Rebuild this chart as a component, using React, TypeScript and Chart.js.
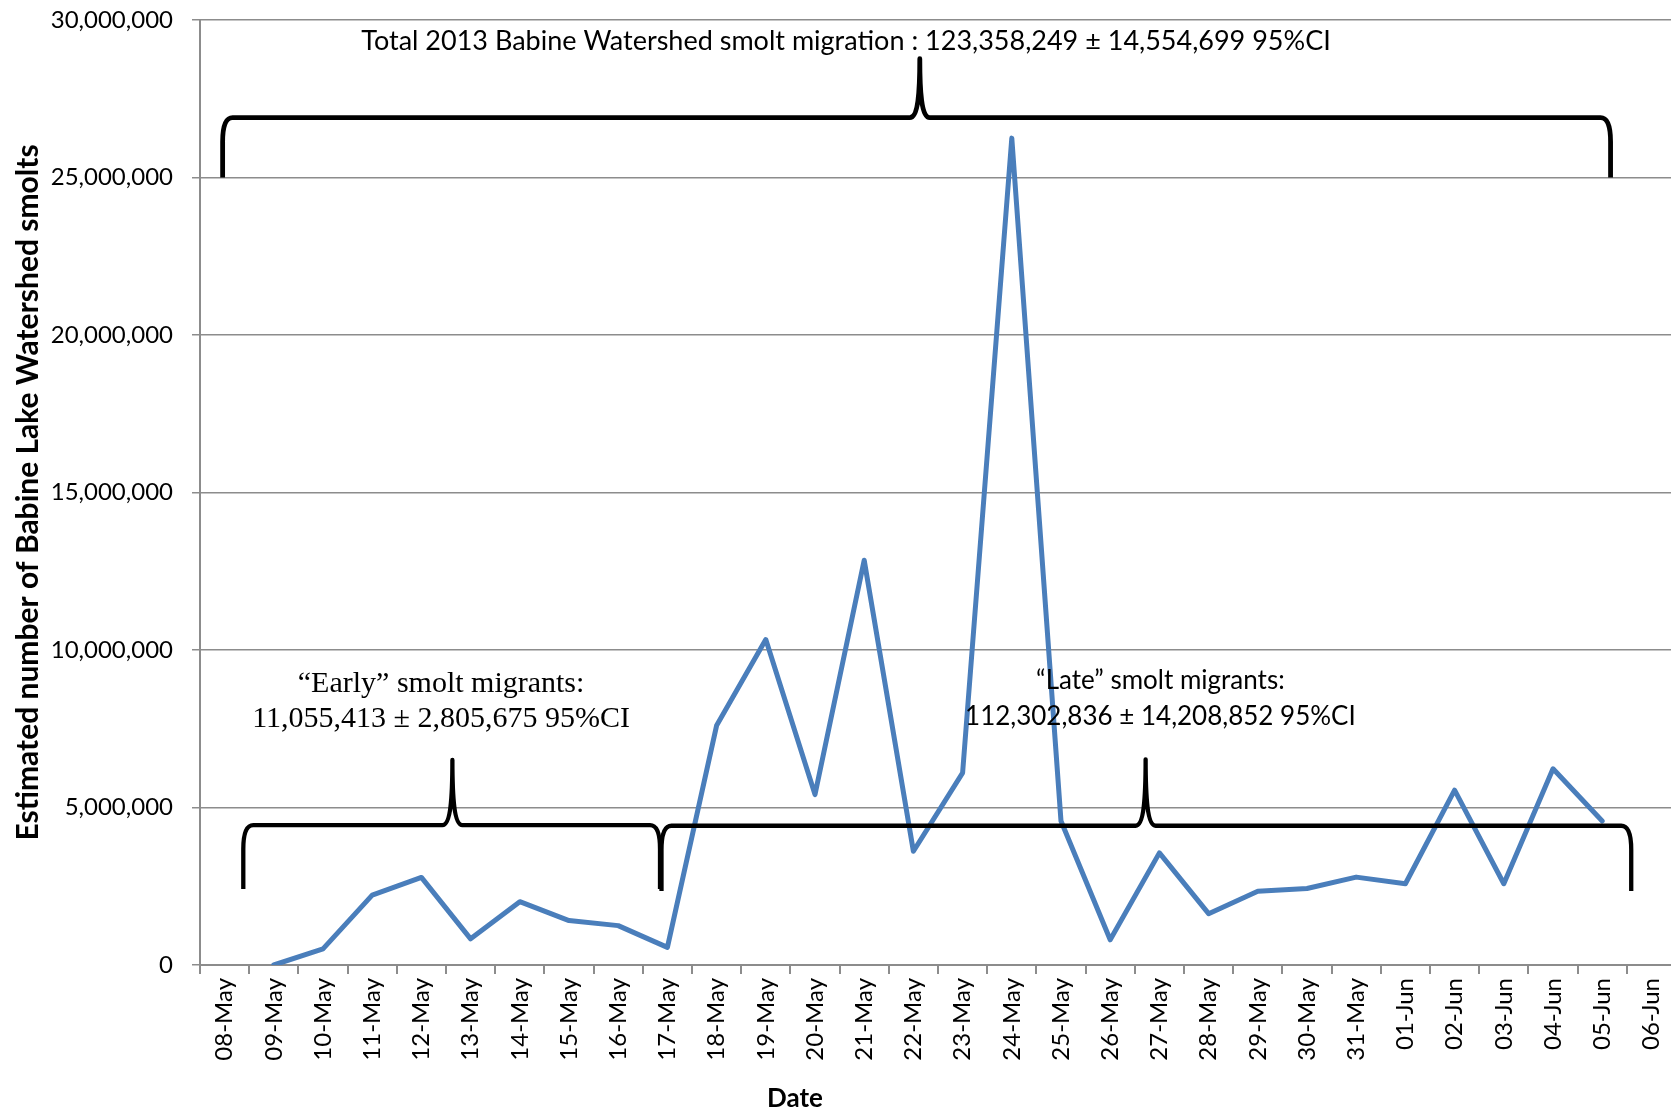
import React, { useEffect, useRef } from 'react';
import { Chart, registerables } from 'chart.js';

Chart.register(...registerables);

// Daily estimates of Babine Lake Watershed smolts, 2013
const dates = [
  '08-May', '09-May', '10-May', '11-May', '12-May', '13-May', '14-May', '15-May',
  '16-May', '17-May', '18-May', '19-May', '20-May', '21-May', '22-May', '23-May',
  '24-May', '25-May', '26-May', '27-May', '28-May', '29-May', '30-May', '31-May',
  '01-Jun', '02-Jun', '03-Jun', '04-Jun', '05-Jun', '06-Jun',
];

const smolts: (number | null)[] = [
  null, 0, 510000, 2220000, 2780000, 830000, 2010000, 1410000,
  1250000, 560000, 7600000, 10330000, 5410000, 12850000, 3610000, 6100000,
  26250000, 4570000, 800000, 3560000, 1630000, 2340000, 2430000, 2790000,
  2580000, 5550000, 2580000, 6230000, 4570000, null,
];

const yMax = 30000000;
const yStep = 5000000;

const totalText = 'Total 2013 Babine Watershed smolt migration : 123,358,249 ± 14,554,699 95%CI';
const earlyText = ['“Early” smolt migrants:', '11,055,413 ± 2,805,675 95%CI'];
const lateText = ['“Late” smolt migrants:', '112,302,836 ± 14,208,852 95%CI'];

// Braces in chart units: x as category index, y as smolt count
const totalBrace = { from: -0.04, cusp: 14.13, to: 28.17, end: 25000000, level: 26900000, tip: 28770000 };
const earlyBrace = { from: 0.38, cusp: 4.63, to: 8.85, end: 2410000, level: 4440000, tip: 6510000 };
const lateBrace = { from: 8.88, cusp: 18.72, to: 28.59, end: 2350000, level: 4420000, tip: 6530000 };

// Label anchors in chart units (x centre, baselines)
const totalAnchor = { x: 12.63, y: [29050000] };
const earlyAnchor = { x: 4.4, y: [8680000, 7550000] };
const lateAnchor = { x: 19.02, y: [8760000, 7620000] };

const SANS = 'Lato, "Open Sans", sans-serif';
const SERIF = '"Liberation Serif", "DejaVu Serif", serif';
const GRID = '#8c8c8c';

type Brace = { from: number; cusp: number; to: number; end: number; level: number; tip: number };

const annotations = {
  id: 'smoltAnnotations',
  afterDatasetsDraw(chart: any) {
    const { ctx, chartArea } = chart;
    const xs = chart.scales.x;
    const ys = chart.scales.y;
    const x0 = xs.getPixelForValue(0);
    const dx = xs.getPixelForValue(1) - x0;
    const px = (i: number) => x0 + i * dx;
    const py = (v: number) => ys.getPixelForValue(v);

    const brace = (b: Brace, width: number) => {
      const x1 = px(b.from);
      const x2 = px(b.to);
      const xc = px(b.cusp);
      const yE = py(b.end);
      const yH = py(b.level);
      const yT = py(b.tip);
      const rx = 10;
      const ry = Math.min(24, Math.abs(yE - yH) * 0.45);
      const cx = 10;
      ctx.save();
      ctx.strokeStyle = '#000';
      ctx.lineWidth = width;
      ctx.lineJoin = 'round';
      ctx.lineCap = 'butt';
      ctx.beginPath();
      ctx.moveTo(x1, yE);
      ctx.lineTo(x1, yH + ry);
      ctx.quadraticCurveTo(x1, yH, x1 + rx, yH);
      ctx.lineTo(xc - cx, yH);
      ctx.bezierCurveTo(xc - 1.5, yH, xc, yH - (yH - yT) * 0.45, xc, yT);
      ctx.bezierCurveTo(xc, yH - (yH - yT) * 0.45, xc + 1.5, yH, xc + cx, yH);
      ctx.lineTo(x2 - rx, yH);
      ctx.quadraticCurveTo(x2, yH, x2, yH + ry);
      ctx.lineTo(x2, yE);
      ctx.stroke();
      ctx.restore();
    };

    brace(totalBrace, 4.8);
    brace(earlyBrace, 4.3);
    brace(lateBrace, 4.3);

    const text = (lines: string[], anchor: { x: number; y: number[] }, font: string) => {
      ctx.save();
      ctx.fillStyle = '#000';
      ctx.font = font;
      ctx.textAlign = 'center';
      ctx.textBaseline = 'alphabetic';
      lines.forEach((line, k) => ctx.fillText(line, px(anchor.x), py(anchor.y[k])));
      ctx.restore();
    };

    text([totalText], totalAnchor, `27px ${SANS}`);
    text(earlyText, earlyAnchor, `30px ${SERIF}`);
    text(lateText, lateAnchor, `26px ${SANS}`);

    // Axis titles
    ctx.save();
    ctx.fillStyle = '#000';
    ctx.font = `bold 26px ${SANS}`;
    ctx.textAlign = 'center';
    ctx.textBaseline = 'middle';
    ctx.fillText('Date', 795, 1099);
    ctx.font = `bold 30px ${SANS}`;
    ctx.translate(28, (chartArea.top + chartArea.bottom) / 2);
    ctx.rotate(-Math.PI / 2);
    ctx.fillText('Estimated number of Babine Lake Watershed smolts', 0, 0);
    ctx.restore();
  },
};

export default function App() {
  const canvasRef = useRef<HTMLCanvasElement | null>(null);

  useEffect(() => {
    const canvas = canvasRef.current;
    if (!canvas) return;
    const chart = new Chart(canvas, {
      type: 'line',
      data: {
        labels: dates,
        datasets: [
          {
            data: smolts,
            borderColor: '#4A7EBB',
            borderWidth: 5,
            pointRadius: 0,
            pointHoverRadius: 0,
            fill: false,
            tension: 0,
            borderJoinStyle: 'round',
            borderCapStyle: 'round',
            spanGaps: false,
          },
        ],
      },
      options: {
        responsive: false,
        animation: false,
        devicePixelRatio: 1,
        layout: { padding: { top: 20, right: 14, left: 0, bottom: 0 } },
        plugins: {
          legend: { display: false },
          tooltip: { enabled: false },
          title: { display: false },
        },
        scales: {
          x: {
            type: 'category',
            offset: true,
            grid: {
              offset: true,
              drawOnChartArea: false,
              drawTicks: true,
              tickLength: 9,
              color: GRID,
              lineWidth: 2,
            },
            border: { color: GRID, width: 2 },
            ticks: {
              autoSkip: false,
              maxRotation: 90,
              minRotation: 90,
              padding: 4,
              color: '#000',
              font: { family: SANS, size: 24 },
            },
            afterFit: (scale: any) => {
              scale.height = 150;
            },
          },
          y: {
            min: 0,
            max: yMax,
            grid: { color: GRID, lineWidth: 1.5, tickLength: 8 },
            border: { color: GRID, width: 2 },
            ticks: {
              stepSize: yStep,
              padding: 19,
              color: '#000',
              font: { family: SANS, size: 24 },
              callback: (v: any) => Number(v).toLocaleString('en-US'),
            },
            afterFit: (scale: any) => {
              scale.width = 200;
              scale.paddingTop = 0;
              scale.paddingBottom = 0;
            },
          },
        },
      },
      plugins: [annotations],
    });
    return () => chart.destroy();
  }, []);

  return (
    <div
      style={{
        position: 'absolute',
        left: 0,
        top: 0,
        width: 1671,
        height: 1115,
        overflow: 'hidden',
        background: '#fff',
      }}
    >
      <canvas ref={canvasRef} width={1690} height={1115} style={{ display: 'block' }} />
    </div>
  );
}
